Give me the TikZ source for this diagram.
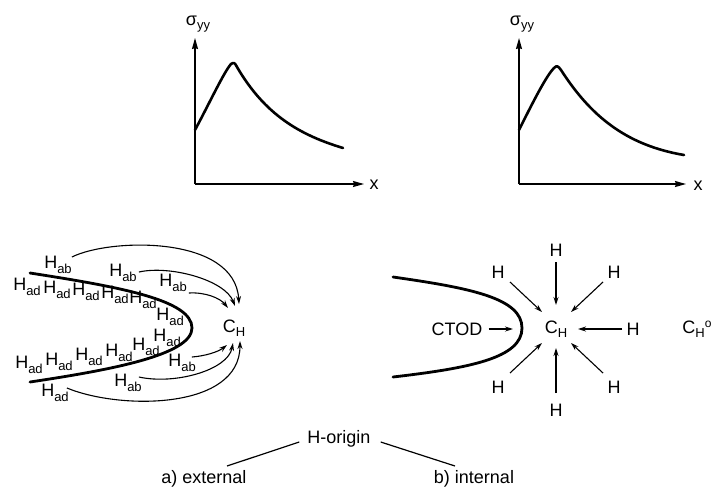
\documentclass[tikz,border=0pt]{standalone}
\usepackage{fontspec}
\setmainfont{Liberation Sans}
\usetikzlibrary{arrows.meta}
\newcommand\sbs[1]{\raisebox{-0.45ex}{\fontsize{13}{13}\selectfont #1}}
\newcommand\Had{H\sbs{ad}}
\newcommand\Hab{H\sbs{ab}}
\begin{document}
\begin{tikzpicture}[x=1pt,y=-1pt,
  lbl/.style={font=\fontsize{18}{20}\selectfont, inner sep=0pt},
  axis/.style={line width=1.3pt,-{Stealth[length=11pt,width=6pt,inset=1pt]}},
  curve/.style={line width=2.6pt,line cap=round,line join=round},
  crack/.style={line width=2.8pt,line cap=round},
  harrow/.style={line width=1.1pt,-{Stealth[length=8pt,width=5pt]}},
  tline/.style={line width=1.2pt}]
\useasboundingbox (0,0) rectangle (719,488);
% ---- left graph
\coordinate (o1) at (195,184);
\coordinate (y1) at (195,38);
\coordinate (x1) at (364,184);
\draw[axis] (o1) -- (y1);
\draw[axis] (o1) -- (x1);
\node[lbl] (s1) at (198,24) {σ\sbs{yy}};
\node[lbl] (xl1) at (374,185) {x};
\draw[curve] (195,130) .. controls (210,102) and (224,72) .. (231,64)
  .. controls (234,62) and (235,63) .. (237,67)
  .. controls (265,115) and (300,135) .. (343,148);
% ---- right graph
\coordinate (o2) at (519,184);
\coordinate (y2) at (519,38);
\coordinate (x2) at (686,184);
\draw[axis] (o2) -- (y2);
\draw[axis] (o2) -- (x2);
\node[lbl] (s2) at (522,24) {σ\sbs{yy}};
\node[lbl] (xl2) at (698,186) {x};
\draw[curve] (519,130) .. controls (532,104) and (546,76) .. (554,68)
  .. controls (557,65) and (558,66) .. (561,70)
  .. controls (590,115) and (625,145) .. (684,155);
% ---- left crack (external)
\draw[crack] (30,273) .. controls (120,287) and (192,300) .. (192,328)
  .. controls (192,355) and (110,370) .. (30,382);
\node[lbl] (ch1) at (234,328) {C\sbs{H}};
\node[lbl] (ab1) at (58,265) {\Hab};
\node[lbl] (ab2) at (123,273) {\Hab};
\node[lbl] (ab3) at (173,283) {\Hab};
\node[lbl] (ad1) at (27,287) {\Had};
\node[lbl] (ad2) at (57,290) {\Had};
\node[lbl] (ad3) at (86,292) {\Had};
\node[lbl] (ad4) at (115,295) {\Had};
\node[lbl] (ad5) at (143,300) {\Had};
\node[lbl] (ad6) at (170,317) {\Had};
\node[lbl] (ad7) at (167,338) {\Had};
\node[lbl] (ad8) at (146,347) {\Had};
\node[lbl] (ad9) at (119,353) {\Had};
\node[lbl] (ad10) at (89,357) {\Had};
\node[lbl] (ad11) at (59,362) {\Had};
\node[lbl] (ad12) at (29,365) {\Had};
\node[lbl] (ab4) at (182,363) {\Hab};
\node[lbl] (ab5) at (128,383) {\Hab};
\node[lbl] (ad13) at (55,393) {\Had};
\coordinate (e1) at (239,304);
\coordinate (e2) at (235,306);
\coordinate (e3) at (228,308);
\coordinate (e4) at (227,345);
\coordinate (e5) at (233,343);
\coordinate (e6) at (240,341);
\draw[harrow] (ab1.east) ++(0,-8) .. controls (110,238) and (235,235) .. (e1);
\draw[harrow] (ab2.east) ++(2,-1) .. controls (170,265) and (225,280) .. (e2);
\draw[harrow] (ab3.east) ++(2,10) .. controls (205,292) and (220,298) .. (e3);
\draw[harrow] (ab4.east) ++(-4,-6) .. controls (205,356) and (218,352) .. (e4);
\draw[harrow] (ab5.east) ++(-3,-6) .. controls (175,385) and (228,370) .. (e5);
\draw[harrow] (ad13.east) ++(-2,-5) .. controls (120,410) and (240,410) .. (e6);
% ---- right crack (internal)
\draw[crack] (393,277) .. controls (470,288) and (522,298) .. (522,328)
  .. controls (522,358) and (470,368) .. (393,377);
\node[lbl] (ch2) at (556,329) {C\sbs{H}};
\node[lbl] (ctod) at (457,329) {CTOD};
\coordinate (ct) at (513,329);
\draw[harrow] (ctod.east) ++(6,0) -- (ct);
\node[lbl] (hn) at (556,250) {H};
\node[lbl] (hnw) at (498,272) {H};
\node[lbl] (hne) at (614,272) {H};
\node[lbl] (he) at (633,329) {H};
\node[lbl] (hsw) at (498,387) {H};
\node[lbl] (hse) at (614,387) {H};
\node[lbl] (hs) at (556,410) {H};
\node[lbl] (cho) at (697,329) {C\sbs{H}\raisebox{0.6ex}{\fontsize{12}{12}\selectfont o}};
\draw[harrow] (556,262) -- (556,305);
\draw[harrow] (510,282) -- (542,312);
\draw[harrow] (603,282) -- (571,312);
\draw[harrow] (622,329) -- (578,329);
\draw[harrow] (510,373) -- (542,343);
\draw[harrow] (603,373) -- (571,343);
\draw[harrow] (556,393) -- (556,348);
% ---- bottom tree
\node[lbl] (ho) at (339,439) {H-origin};
\node[lbl] (ext) at (204,479) {a) external};
\node[lbl] (int) at (474,479) {b) internal};
\coordinate (l1) at (227,466);
\coordinate (r1) at (455,466);
\draw[tline] (ho.west) ++(-8,3) -- (l1);
\draw[tline] (ho.east) ++(10,3) -- (r1);
\end{tikzpicture}
\end{document}
